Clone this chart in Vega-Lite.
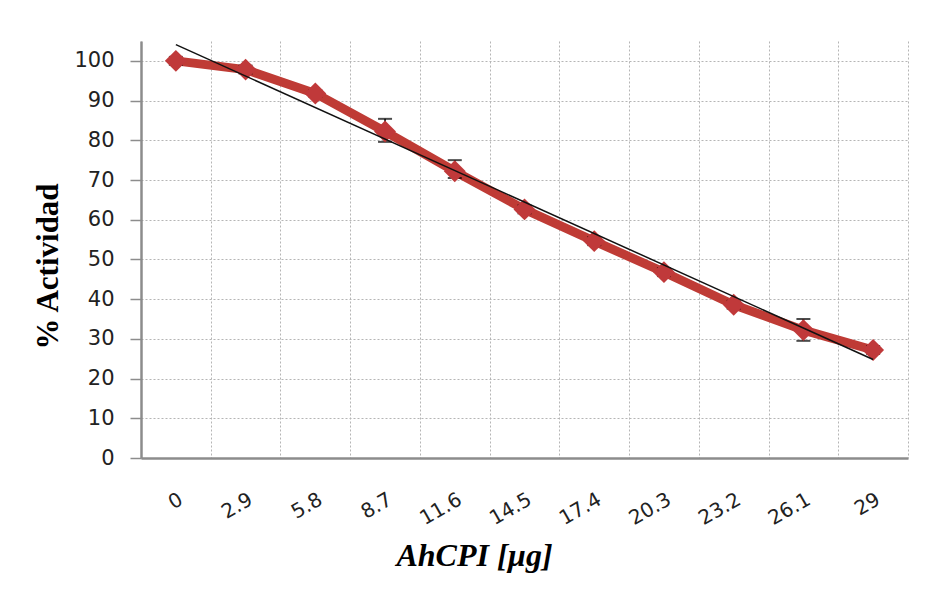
{
  "$schema": "https://vega.github.io/schema/vega-lite/v6.json",
  "width": 767,
  "height": 417,
  "autosize": {"type": "none"},
  "padding": {"left": 141, "top": 41, "right": 24, "bottom": 135},
  "background": "white",
  "config": {
    "view": {"stroke": null},
    "axisY": {
      "grid": true,
      "gridDash": [2, 2],
      "gridColor": "#b5b5b5",
      "gridWidth": 1,
      "tickColor": "#8c8c8c",
      "tickSize": 11,
      "tickWidth": 1.5,
      "domainColor": "#8c8c8c",
      "domainWidth": 2.5,
      "labelFont": "DejaVu Sans",
      "labelFontSize": 21,
      "labelColor": "#222222",
      "labelPadding": 16,
      "titleFont": "Liberation Serif",
      "titleFontSize": 31,
      "titleFontWeight": "bold",
      "titleColor": "#000000",
      "titleX": -84,
      "titleY": 225,
      "titleAlign": "center",
      "titleBaseline": "alphabetic"
    }
  },
  "datasets": {
    "act": [
      {"ug": "0", "act": 100, "lo": 99, "hi": 101},
      {"ug": "2.9", "act": 97.8, "lo": 96.8, "hi": 98.8},
      {"ug": "5.8", "act": 91.8, "lo": 91, "hi": 92.6},
      {"ug": "8.7", "act": 82.2, "lo": 79.6, "hi": 85.4},
      {"ug": "11.6", "act": 72.2, "lo": 70.5, "hi": 75},
      {"ug": "14.5", "act": 62.6, "lo": 61.6, "hi": 63.6},
      {"ug": "17.4", "act": 54.6, "lo": 53.6, "hi": 55.6},
      {"ug": "20.3", "act": 46.8, "lo": 45.8, "hi": 47.8},
      {"ug": "23.2", "act": 38.6, "lo": 37.6, "hi": 39.6},
      {"ug": "26.1", "act": 32.2, "lo": 29.5, "hi": 35},
      {"ug": "29", "act": 27.2, "lo": 26.2, "hi": 28.2}
    ],
    "trend": [
      {"ug": "0", "fit": 104.1},
      {"ug": "29", "fit": 24.8}
    ]
  },
  "encoding": {
    "x": {
      "field": "ug",
      "type": "nominal",
      "sort": null,
      "scale": {
        "domain": ["0", "2.9", "5.8", "8.7", "11.6", "14.5", "17.4", "20.3", "23.2", "26.1", "29"],
        "paddingInner": 0,
        "paddingOuter": 0
      },
      "axis": {
        "title": "AhCPI [µg]",
        "tickBand": "extent",
        "grid": true,
        "gridDash": [2, 2],
        "gridColor": "#b5b5b5",
        "gridWidth": 1,
        "ticks": false,
        "tickSize": 0,
        "labelAngle": -30,
        "labelAlign": "right",
        "labelBaseline": "top",
        "labelPadding": 31,
        "labelFont": "DejaVu Sans",
        "labelFontSize": 20,
        "labelColor": "#222222",
        "domainColor": "#8c8c8c",
        "domainWidth": 2.5,
        "titleFont": "Liberation Serif",
        "titleFontSize": 32,
        "titleFontStyle": "italic",
        "titleFontWeight": "bold",
        "titleColor": "#000000",
        "titleX": 333,
        "titleY": 107,
        "titleAlign": "center",
        "titleBaseline": "alphabetic"
      }
    }
  },
  "layer": [
    {
      "data": {"name": "act"},
      "mark": {"type": "line", "color": "#bf3b35", "strokeWidth": 9, "strokeJoin": "round"},
      "encoding": {
        "y": {
          "field": "act",
          "type": "quantitative",
          "title": "% Actividad",
          "scale": {"domain": [0, 105], "nice": false, "zero": true},
          "axis": {"values": [0, 10, 20, 30, 40, 50, 60, 70, 80, 90, 100]}
        }
      }
    },
    {
      "data": {"name": "act"},
      "mark": {"type": "rule", "color": "#000000", "strokeWidth": 1.5},
      "encoding": {
        "y": {"field": "lo", "type": "quantitative", "title": "% Actividad"},
        "y2": {"field": "hi"}
      }
    },
    {
      "data": {"name": "act"},
      "mark": {"type": "tick", "color": "#000000", "thickness": 2, "size": 14, "orient": "horizontal"},
      "encoding": {
        "y": {"field": "lo", "type": "quantitative", "title": "% Actividad"}
      }
    },
    {
      "data": {"name": "act"},
      "mark": {"type": "tick", "color": "#000000", "thickness": 2, "size": 14, "orient": "horizontal"},
      "encoding": {
        "y": {"field": "hi", "type": "quantitative", "title": "% Actividad"}
      }
    },
    {
      "data": {"name": "act"},
      "mark": {"type": "point", "shape": "diamond", "filled": true, "color": "#c0393a", "size": 480, "opacity": 1},
      "encoding": {
        "y": {"field": "act", "type": "quantitative", "title": "% Actividad"}
      }
    },
    {
      "data": {"name": "trend"},
      "mark": {"type": "line", "color": "#111111", "strokeWidth": 1.5},
      "encoding": {
        "y": {"field": "fit", "type": "quantitative", "title": "% Actividad"}
      }
    }
  ]
}
